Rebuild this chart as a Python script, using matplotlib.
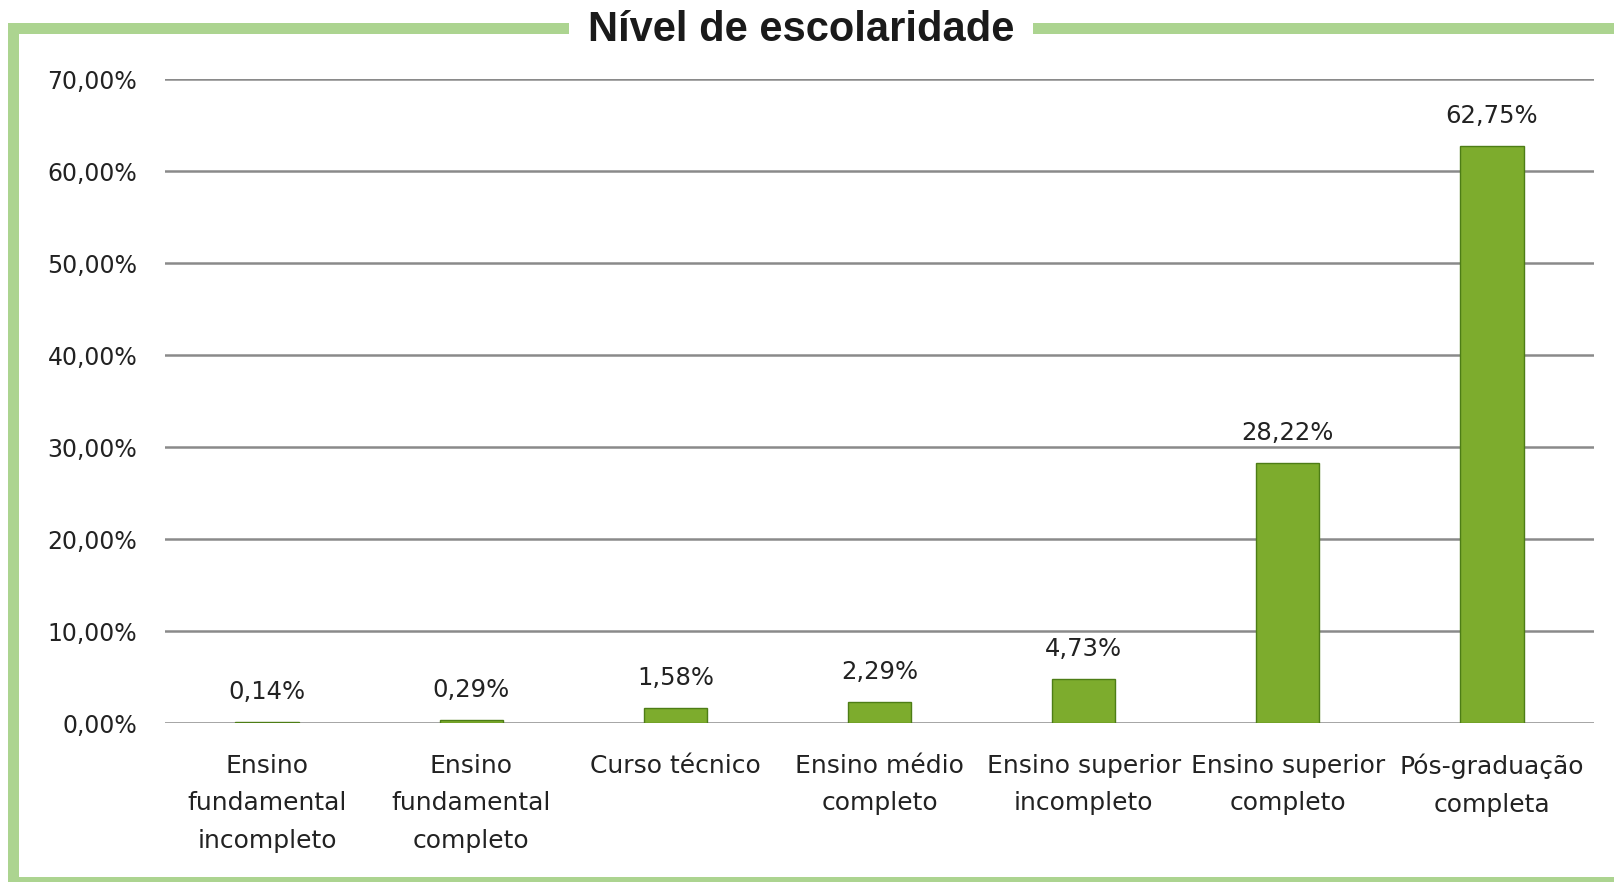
import matplotlib
matplotlib.use("Agg")
import matplotlib.pyplot as plt
from matplotlib.patches import Rectangle

categories = [
    "Ensino\nfundamental\nincompleto",
    "Ensino\nfundamental\ncompleto",
    "Curso técnico",
    "Ensino médio\ncompleto",
    "Ensino superior\nincompleto",
    "Ensino superior\ncompleto",
    "Pós-graduação\ncompleta",
]
values = [0.14, 0.29, 1.58, 2.29, 4.73, 28.22, 62.75]
yticks = [0, 10, 20, 30, 40, 50, 60, 70]
title = "Nível de escolaridade"

W, H = 1615, 882
fig = plt.figure(figsize=(W / 100, H / 100), dpi=100)
fig.patch.set_facecolor("white")

green = "#acd490"
def frect(x0, y0, x1, y1):
    # pixel coords (top-left origin) -> figure fraction rectangle
    fig.patches.append(Rectangle((x0 / W, 1 - y1 / H), (x1 - x0) / W, (y1 - y0) / H,
                                 transform=fig.transFigure, facecolor=green,
                                 edgecolor="none", zorder=0))

frect(8, 23, 569, 34)
frect(1033, 23, W, 34)
frect(8, 23, 19, H)
frect(8, 877, W, H)

fig.text(801 / W, 1 - 30 / H, title, ha="center", va="center",
         fontsize=30, fontweight="bold", family="Liberation Sans", color="#1a1a1a")

ax = fig.add_axes([165 / W, 1 - 723 / H, (1594 - 165) / W, (723 - 79) / H])
x = list(range(len(categories)))
bars = ax.bar(x, values, width=0.31, color="#7dac2d", edgecolor="#4d7d16",
              linewidth=1.0, zorder=3)
ax.set_xlim(-0.5, len(categories) - 0.5)
ax.set_ylim(0, 70)
ax.set_yticks(yticks)
ax.set_yticklabels([f"{t:.2f}".replace(".", ",") + "%" for t in yticks])
ax.set_xticks(x)
ax.set_xticklabels(categories, linespacing=1.72)
for s in ax.spines.values():
    s.set_visible(False)
ax.tick_params(axis="y", length=0, pad=20, labelsize=17, labelcolor="#222222")
ax.tick_params(axis="x", length=0, pad=22, labelsize=18, labelcolor="#222222")
ax.yaxis.grid(True, color="#8a8a8a", linewidth=1.8, zorder=1)
ax.set_axisbelow(True)

for xi, v in zip(x, values):
    ax.annotate(f"{v:.2f}".replace(".", ",") + "%", (xi, v), xytext=(0, 13),
                textcoords="offset points", ha="center", va="bottom",
                fontsize=17.5, color="#222222")

fig.savefig("out.png", dpi=100, facecolor="white")
